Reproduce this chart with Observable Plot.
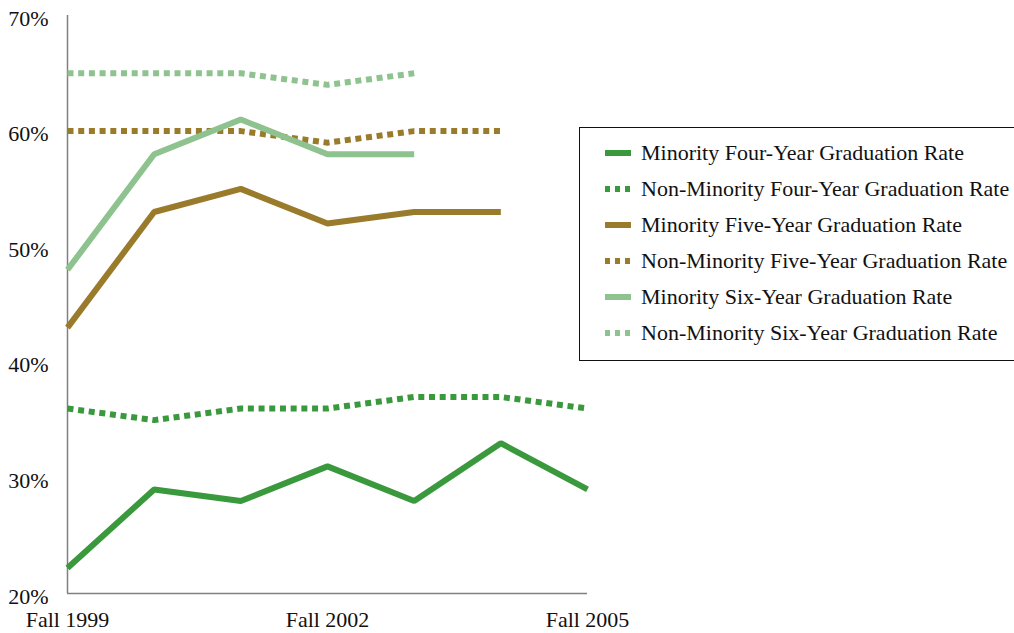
<!DOCTYPE html>
<html>
<head>
<meta charset="utf-8">
<script src="https://cdn.jsdelivr.net/npm/d3@7"></script>
<script src="https://cdn.jsdelivr.net/npm/@observablehq/plot@0.6"></script>
<style>
  html, body { margin: 0; padding: 0; background: #fff; overflow: hidden; }
  #wrap { position: relative; width: 1014px; height: 633px; }
  #legend {
    position: absolute; left: 579px; top: 127px; width: 470px; height: 234px;
    border: 1.5px solid #111; box-sizing: border-box; background: #fff;
    font-family: "Liberation Serif", "Times New Roman", serif; font-size: 22px; color: #111;
    padding-top: 7px;
  }
  .row { height: 36px; display: flex; align-items: center; white-space: nowrap; }
  .row svg { margin-left: 25px; margin-right: 10px; flex: none; }
</style>
</head>
<body>
<div id="wrap">
  <div id="chart"></div>
  <div id="legend"></div>
</div>
<script>
const years = [1999, 2000, 2001, 2002, 2003, 2004, 2005];
const minorityFour = [22.2, 29, 28, 31, 28, 33, 29];
const nonMinorityFour = [36, 35, 36, 36, 37, 37, 36];
const minorityFive = [43, 53, 55, 52, 53, 53, null];
const nonMinorityFive = [60, 60, 60, 59, 60, 60, null];
const minoritySix = [48, 58, 61, 58, 58, null, null];
const nonMinoritySix = [65, 65, 65, 64, 65, null, null];

const seriesNames = [
  "Minority Four-Year Graduation Rate",
  "Non-Minority Four-Year Graduation Rate",
  "Minority Five-Year Graduation Rate",
  "Non-Minority Five-Year Graduation Rate",
  "Minority Six-Year Graduation Rate",
  "Non-Minority Six-Year Graduation Rate"
];
const seriesValues = [minorityFour, nonMinorityFour, minorityFive, nonMinorityFive, minoritySix, nonMinoritySix];
const seriesColors = ["#3a983d", "#3a983d", "#9a7a2b", "#9a7a2b", "#8ec38f", "#8ec38f"];
const seriesDashed = [false, true, false, true, false, true];

const yTicks = [20, 30, 40, 50, 60, 70];
const xTicks = [1999, 2002, 2005];
const xTickLabels = ["Fall 1999", "Fall 2002", "Fall 2005"];

const DASH = "6,4.7";

const lineMarks = seriesNames.map((name, i) => {
  const data = years.map((year, j) => ({year, value: seriesValues[i][j], name}))
    .filter(d => d.value != null);
  return Plot.line(data, {
    x: "year", y: "value",
    stroke: seriesColors[i], strokeWidth: 6,
    strokeDasharray: seriesDashed[i] ? DASH : null,
    strokeLinejoin: "miter", strokeLinecap: "butt"
  });
});

const chart = Plot.plot({
  width: 1014,
  height: 633,
  marginLeft: 67,
  marginRight: 427,
  marginTop: 15,
  marginBottom: 40,
  style: {fontFamily: "'Liberation Serif', 'Times New Roman', serif", fontSize: "22px", color: "#111", background: "#fff"},
  x: {domain: [1999, 2005], label: null},
  y: {domain: [20, 70], label: null},
  marks: [
    Plot.axisY({ticks: yTicks, tickFormat: d => d + "%", tickSize: 0, tickPadding: 19, label: null, dy: 3}),
    Plot.axisX({ticks: xTicks, tickFormat: d => xTickLabels[xTicks.indexOf(d)], tickSize: 0, tickPadding: 18, label: null}),
    Plot.ruleX([1999], {stroke: "#808080", strokeWidth: 1.5}),
    Plot.ruleY([20], {stroke: "#808080", strokeWidth: 1.5}),
    ...lineMarks
  ]
});
document.getElementById("chart").appendChild(chart);

const legend = document.getElementById("legend");
seriesNames.forEach((name, i) => {
  const row = document.createElement("div");
  row.className = "row";
  const ns = "http://www.w3.org/2000/svg";
  const svg = document.createElementNS(ns, "svg");
  svg.setAttribute("width", 26);
  svg.setAttribute("height", 10);
  const ln = document.createElementNS(ns, "line");
  ln.setAttribute("x1", 0); ln.setAttribute("x2", 26);
  ln.setAttribute("y1", 5); ln.setAttribute("y2", 5);
  ln.setAttribute("stroke", seriesColors[i]);
  ln.setAttribute("stroke-width", 6);
  if (seriesDashed[i]) ln.setAttribute("stroke-dasharray", "5,5");
  svg.appendChild(ln);
  const span = document.createElement("span");
  span.textContent = name;
  row.appendChild(svg);
  row.appendChild(span);
  legend.appendChild(row);
});
</script>
</body>
</html>
